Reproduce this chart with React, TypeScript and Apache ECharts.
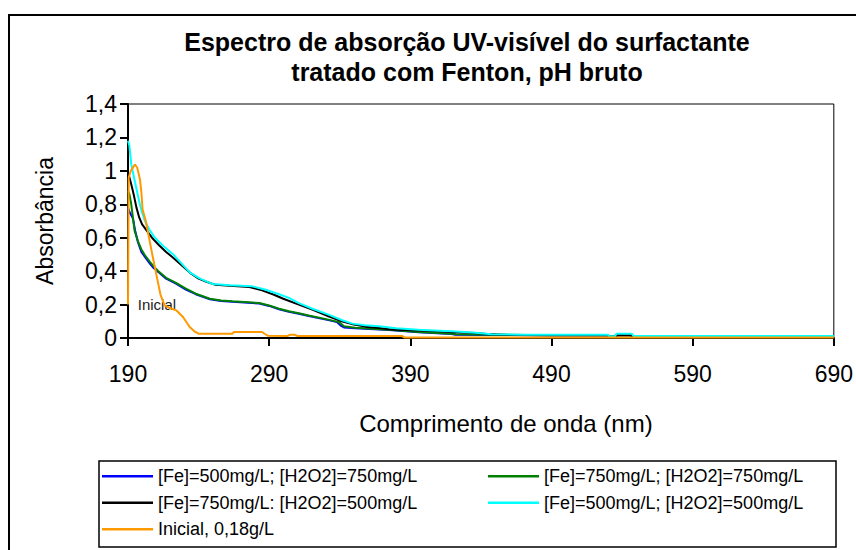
import React, { useEffect, useRef } from "react";
import * as echarts from "echarts";

const FONT = "'Liberation Sans', Arial, sans-serif";

const titleLines = [
  "Espectro de absorção UV-visível do surfactante",
  "tratado com Fenton, pH bruto",
];
const xAxisTitle = "Comprimento de onda (nm)";
const yAxisTitle = "Absorbância";
const xTicks = [190, 290, 390, 490, 590, 690];
const yTickLabels = ["0", "0,2", "0,4", "0,6", "0,8", "1", "1,2", "1,4"];

const seriesNames = [
  "[Fe]=500mg/L; [H2O2]=750mg/L",
  "[Fe]=750mg/L; [H2O2]=750mg/L",
  "[Fe]=750mg/L: [H2O2]=500mg/L",
  "[Fe]=500mg/L; [H2O2]=500mg/L",
  "Inicial, 0,18g/L",
];
const seriesColors = ["#0000ff", "#008000", "#000000", "#00ffff", "#ff9900"];
const legendColumn1 = [seriesNames[0], seriesNames[2], seriesNames[4]];
const legendColumn2 = [seriesNames[1], seriesNames[3]];

const fe500h750 = [
  [190, 0.78], [191, 0.755], [193.5, 0.715], [195, 0.645], [197, 0.575], [199.5, 0.515],
  [202, 0.485], [205.5, 0.445], [208, 0.42], [211.5, 0.395], [217, 0.355], [224, 0.325],
  [231, 0.29], [238, 0.262], [243, 0.247], [248, 0.232], [256, 0.222], [264, 0.217],
  [283, 0.206], [290, 0.192], [297, 0.172], [304, 0.157], [311, 0.145], [318, 0.132],
  [332, 0.107], [338, 0.095], [341, 0.072], [343, 0.063], [351, 0.058], [375, 0.048],
  [396, 0.034], [419, 0.024], [422, 0.02], [450, 0.018], [490, 0.015], [530, 0.015],
  [532, 0.008], [537, 0.015], [546, 0.015], [548, 0.008], [690, 0.008],
];
const fe750h750 = [
  [190, 0.88], [191, 0.86], [192.3, 0.8], [194.7, 0.64], [197, 0.58], [199.5, 0.53],
  [202, 0.495], [205.5, 0.455], [208, 0.43], [211.5, 0.4], [217, 0.36], [224, 0.33],
  [231, 0.295], [238, 0.265], [243, 0.25], [248, 0.235], [256, 0.225], [264, 0.22],
  [283, 0.209], [290, 0.195], [297, 0.175], [304, 0.16], [311, 0.148], [318, 0.135],
  [332, 0.11], [339.5, 0.095], [343, 0.07], [351, 0.062], [375, 0.05], [396, 0.036],
  [419, 0.026], [422, 0.022], [450, 0.02], [490, 0.016], [530, 0.016], [532, 0.008],
  [537, 0.016], [546, 0.016], [548, 0.008], [690, 0.008],
];
const fe750h500 = [
  [190, 0.99], [192, 0.93], [194, 0.86], [196, 0.78], [198, 0.72], [200, 0.68],
  [203, 0.645], [207, 0.6], [212, 0.555], [217, 0.515], [222, 0.48], [228, 0.435],
  [234, 0.39], [240, 0.355], [246, 0.335], [252, 0.318], [262, 0.312], [276, 0.305],
  [285, 0.285], [293, 0.26], [300, 0.235], [311, 0.2], [321, 0.168], [332, 0.13],
  [342, 0.098], [350, 0.08], [358, 0.068], [368, 0.06], [375, 0.052], [380, 0.05],
  [396, 0.045], [410, 0.04], [420, 0.035], [436, 0.03], [444, 0.024], [460, 0.018],
  [530, 0.016], [532, 0.008], [537, 0.016], [546, 0.016], [548, 0.008], [690, 0.008],
];
const fe500h500 = [
  [190, 1.18], [191, 1.15], [192.3, 1.04], [195, 0.93], [198.4, 0.8], [200, 0.75],
  [202, 0.7], [205, 0.65], [209, 0.6], [215, 0.55], [222, 0.5], [228, 0.445],
  [233.7, 0.393], [240, 0.36], [245, 0.34], [250, 0.323], [262, 0.315], [278, 0.309],
  [287, 0.29], [297, 0.262], [304, 0.24], [311, 0.209], [320.7, 0.175], [332, 0.14],
  [341.8, 0.106], [349, 0.086], [358, 0.076], [367.7, 0.07], [380, 0.058], [396, 0.05],
  [410, 0.044], [419.4, 0.04], [436, 0.032], [447.6, 0.022], [470, 0.02], [530, 0.02],
  [531, 0.01], [535, 0.01], [536, 0.025], [547, 0.025], [548, 0.012], [690, 0.012],
];
const inicial = [
  [190, 0.2], [190.5, 0.96], [192, 1.0], [194.9, 1.038], [196.5, 1.02], [198.5, 0.948],
  [199.5, 0.87], [200.3, 0.77], [202.6, 0.7], [204.9, 0.6], [207.2, 0.5], [209.6, 0.4],
  [212, 0.3], [213, 0.26], [216, 0.194], [220, 0.178], [224.3, 0.165], [229, 0.126],
  [233.7, 0.066], [237, 0.04], [240, 0.026], [264, 0.026], [265, 0.036], [285, 0.036],
  [287, 0.024], [289, 0.014], [303, 0.012], [305, 0.02], [308, 0.02], [310, 0.012],
  [384, 0.012], [386, 0.003], [690, 0.003],
];
const seriesData = [fe500h750, fe750h750, fe750h500, fe500h500, inicial];

const annotationText = "Inicial";
const annotationAt = [210.5, 0.2];

export default function App() {
  const ref = useRef<HTMLDivElement>(null);
  useEffect(() => {
    if (!ref.current) return;
    const chart = echarts.init(ref.current, undefined, { renderer: "svg" });
    const series: any[] = seriesData.map((d, i) => ({
      name: seriesNames[i],
      type: "line",
      data: d,
      symbol: "none",
      lineStyle: { color: seriesColors[i], width: 2 },
      itemStyle: { color: seriesColors[i] },
      z: 2 + i,
    }));
    series[4].markPoint = {
      symbol: "rect",
      symbolSize: 0,
      silent: true,
      data: [{ coord: annotationAt, value: annotationText }],
      label: {
        show: true,
        position: "inside",
        formatter: annotationText,
        color: "#222",
        fontFamily: FONT,
        fontSize: 15,
      },
    };
    const legendBase = {
      orient: "vertical",
      top: 463,
      padding: 0,
      itemGap: 0,
      itemWidth: 51,
      itemHeight: 2.5,
      icon: "rect",
      selectedMode: false,
      textStyle: {
        fontFamily: FONT,
        fontSize: 18,
        color: "#000",
        lineHeight: 26.5,
      },
    };
    chart.setOption({
      animation: false,
      backgroundColor: "#fff",
      title: {
        text: titleLines.join("\n"),
        left: 462,
        top: 22,
        textAlign: "center",
        textStyle: {
          fontFamily: FONT,
          fontWeight: "bold",
          fontSize: 25,
          lineHeight: 30,
          color: "#000",
        },
      },
      grid: {
        left: 128,
        right: 19,
        top: 104,
        bottom: 212,
        show: true,
        borderColor: "#000",
        borderWidth: 1,
      },
      xAxis: {
        type: "value",
        min: 190,
        max: 690,
        name: xAxisTitle,
        nameLocation: "middle",
        nameGap: 73,
        nameTextStyle: {
          fontFamily: FONT,
          fontSize: 24,
          color: "#000",
          padding: [0, 0, 0, 50],
        },
        axisLine: { lineStyle: { color: "#000", width: 2 } },
        axisTick: { customValues: xTicks, length: 8, lineStyle: { color: "#000", width: 2 } },
        axisLabel: {
          customValues: xTicks,
          margin: 24,
          fontFamily: FONT,
          fontSize: 23,
          color: "#000",
        },
        splitLine: { show: false },
      },
      yAxis: {
        type: "value",
        min: 0,
        max: 1.4,
        interval: 0.2,
        name: yAxisTitle,
        nameLocation: "middle",
        nameGap: 72,
        nameTextStyle: { fontFamily: FONT, fontSize: 23, color: "#000" },
        axisLine: { show: true, lineStyle: { color: "#000", width: 2 } },
        axisTick: { show: true, length: 8, lineStyle: { color: "#000", width: 2 } },
        axisLabel: {
          margin: 11,
          fontFamily: FONT,
          fontSize: 23,
          color: "#000",
          formatter: (v: number) => yTickLabels[Math.round(v / 0.2)] ?? "",
        },
        splitLine: { show: false },
      },
      legend: [
        { ...legendBase, left: 102, data: legendColumn1 },
        { ...legendBase, left: 488, data: legendColumn2 },
      ],
      graphic: [
        {
          type: "rect",
          shape: { x: 9, y: 15, width: 870, height: 560 },
          style: { fill: "none", stroke: "#000", lineWidth: 2 },
          silent: true,
        },
        {
          type: "rect",
          shape: { x: 99, y: 461, width: 737, height: 86 },
          style: { fill: "none", stroke: "#000", lineWidth: 1.5 },
          silent: true,
        },
      ],
      series,
    });
    return () => chart.dispose();
  }, []);
  return (
    <div
      ref={ref}
      style={{ position: "fixed", left: 0, top: 0, width: 856, height: 550 }}
    />
  );
}
